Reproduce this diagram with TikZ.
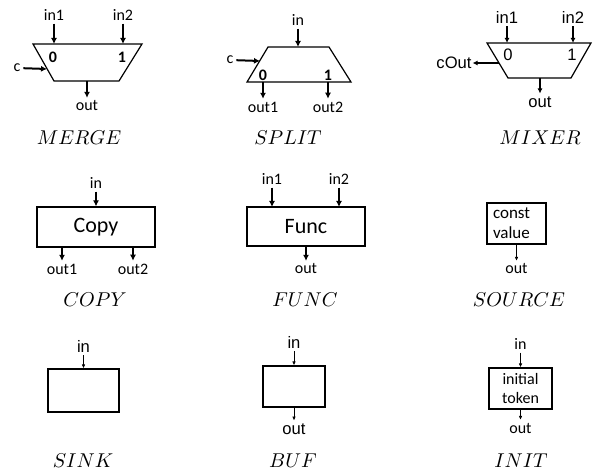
\documentclass[tikz,border=0pt]{standalone}
\usepackage{fontspec}
\setsansfont{Carlito}
\newfontfamily\arialfont{Liberation Sans}
\usetikzlibrary{arrows.meta}

\begin{document}
\begin{tikzpicture}
[x=0.5pt,y=-0.5pt,
 port/.style={font=\sffamily\fontsize{8}{9}\selectfont,inner sep=0pt,outer sep=1.5pt},
 aport/.style={font=\arialfont\fontsize{8.3}{9}\selectfont,inner sep=0pt,outer sep=1.5pt},
 sel/.style={font=\sffamily\bfseries\fontsize{8}{9}\selectfont,inner sep=0pt},
 asel/.style={font=\arialfont\fontsize{8.3}{9}\selectfont,inner sep=0pt},
 kind/.style={font=\fontsize{10}{11}\selectfont,inner sep=0pt},
 blk/.style={draw,line width=0.6pt,inner sep=0pt},
 fat/.style={line width=1pt,-{Latex[length=3pt,width=3pt]}},
 mid/.style={line width=0.8pt,-{Latex[length=2.6pt,width=2.6pt]}},
 slim/.style={line width=0.5pt,-{Latex[length=2pt,width=1.8pt]}}]
\useasboundingbox (0,0) rectangle (600,470);

% merge
\coordinate (mrgTL) at (33,44);
\coordinate (mrgTR) at (142,44);
\coordinate (mrgBR) at (119,81);
\coordinate (mrgBL) at (54,81);
\draw[blk] (mrgTL) -- (mrgTR) -- (mrgBR) -- (mrgBL) -- cycle;
\coordinate (mrgI1) at (54,44);
\coordinate (mrgI2) at (123,44);
\coordinate (mrgCi) at (47,69);
\coordinate (mrgO) at (87,81);
\node[port] (mrgIn1) at (54,15) {in1};
\node[port] (mrgIn2) at (123,15) {in2};
\node[port] (mrgC) at (17,68) {c};
\node[port] (mrgOut) at (87,106) {out};
\node[sel] (mrgZero) at (53,57) {0};
\node[sel] (mrgOne) at (122,57) {1};
\node[kind] (mrgName) at (79,138) {$MERGE$};
\draw[fat] (mrgIn1) -- (mrgI1);
\draw[fat] (mrgIn2) -- (mrgI2);
\draw[fat] (mrgC) -- (mrgCi);
\draw[fat] (mrgO) -- (mrgOut);

% split
\coordinate (splTL) at (268,47);
\coordinate (splTR) at (329,47);
\coordinate (splBR) at (351,82);
\coordinate (splBL) at (247,82);
\draw[blk] (splTL) -- (splTR) -- (splBR) -- (splBL) -- cycle;
\coordinate (splI) at (298,47);
\coordinate (splCi) at (260,61);
\coordinate (splO1) at (263,82);
\coordinate (splO2) at (328,82);
\node[port] (splIn) at (298,20) {in};
\node[port] (splC) at (230,60) {c};
\node[port] (splOut1) at (263,107) {out1};
\node[port] (splOut2) at (328,107) {out2};
\node[sel] (splZero) at (263,75) {0};
\node[sel] (splOne) at (328,75) {1};
\node[kind] (splName) at (288,138) {$SPLIT$};
\draw[fat] (splIn) -- (splI);
\draw[fat] (splC) -- (splCi);
\draw[fat] (splO1) -- (splOut1);
\draw[fat] (splO2) -- (splOut2);

% mixer
\coordinate (mixTL) at (487,43);
\coordinate (mixTR) at (591,43);
\coordinate (mixBR) at (571,78);
\coordinate (mixBL) at (508,78);
\draw[blk] (mixTL) -- (mixTR) -- (mixBR) -- (mixBL) -- cycle;
\coordinate (mixI1) at (507,43);
\coordinate (mixI2) at (573,43);
\coordinate (mixCo) at (499,63);
\coordinate (mixO) at (540,78);
\node[aport] (mixIn1) at (507,17) {in1};
\node[aport] (mixIn2) at (573,17) {in2};
\node[aport,outer sep=0.5pt] (mixCOut) at (454,63) {cOut};
\node[aport] (mixOut) at (540,102) {out};
\node[asel] (mixZero) at (508,55) {0};
\node[asel] (mixOne) at (572,55) {1};
\node[kind] (mixName) at (540,138) {$MIXER$};
\draw[mid] (mixIn1) -- (mixI1);
\draw[mid] (mixIn2) -- (mixI2);
\draw[mid] (mixCo) -- (mixCOut);
\draw[mid] (mixO) -- (mixOut);

% copy
\node[blk,minimum width=59pt,minimum height=20pt,font=\sffamily\fontsize{11}{12}\selectfont] (copyBox) at (96,227) {Copy};
\coordinate (copyO1) at (62,247);
\coordinate (copyO2) at (133,247);
\node[port] (copyIn) at (96,183) {in};
\node[port] (copyOut1) at (62,269) {out1};
\node[port] (copyOut2) at (133,269) {out2};
\node[kind] (copyName) at (95,300) {$COPY$};
\draw[fat] (copyIn) -- (copyBox);
\draw[fat] (copyO1) -- (copyOut1);
\draw[fat] (copyO2) -- (copyOut2);

% func
\node[blk,minimum width=59pt,minimum height=19.5pt,font=\sffamily\fontsize{11}{12}\selectfont] (funcBox) at (306,226.5) {Func};
\coordinate (funcI1) at (272,207);
\coordinate (funcI2) at (339,207);
\node[port] (funcIn1) at (272,179) {in1};
\node[port] (funcIn2) at (339,179) {in2};
\node[port] (funcOut) at (306,269) {out};
\node[kind] (funcName) at (305,300) {$FUNC$};
\draw[fat] (funcIn1) -- (funcI1);
\draw[fat] (funcIn2) -- (funcI2);
\draw[fat] (funcBox) -- (funcOut);

% source
\node[blk,minimum width=29.5pt,minimum height=20.5pt,inner xsep=3pt,text width=23.5pt,align=left,
      font=\sffamily\fontsize{8.5}{10}\selectfont] (srcBox) at (516.5,223.5) {const\\value};
\node[port] (srcOut) at (516.5,269) {out};
\node[kind] (srcName) at (519,300) {$SOURCE$};
\draw[slim] (srcBox) -- (srcOut);

% sink
\node[blk,minimum width=35.5pt,minimum height=21.5pt] (sinkBox) at (83.5,390.5) {};
\node[aport] (sinkIn) at (83.5,346) {in};
\node[kind] (sinkName) at (83,461) {$SINK$};
\draw[slim] (sinkIn) -- (sinkBox);

% buf
\node[blk,minimum width=31pt,minimum height=20.5pt] (bufBox) at (294,386.5) {};
\node[aport] (bufIn) at (294,342) {in};
\node[aport] (bufOut) at (294,429) {out};
\node[kind] (bufName) at (293,461) {$BUF$};
\draw[slim] (bufIn) -- (bufBox);
\draw[slim] (bufBox) -- (bufOut);

% init
\node[blk,minimum width=31.5pt,minimum height=20.5pt,align=center,
      font=\sffamily\fontsize{8}{9.5}\selectfont] (initBox) at (520.5,388.5) {initial\\token};
\node[port] (initIn) at (520.5,344) {in};
\node[port] (initOut) at (520.5,428) {out};
\node[kind] (initName) at (521,461) {$INIT$};
\draw[slim] (initIn) -- (initBox);
\draw[slim] (initBox) -- (initOut);
\end{tikzpicture}
\end{document}
